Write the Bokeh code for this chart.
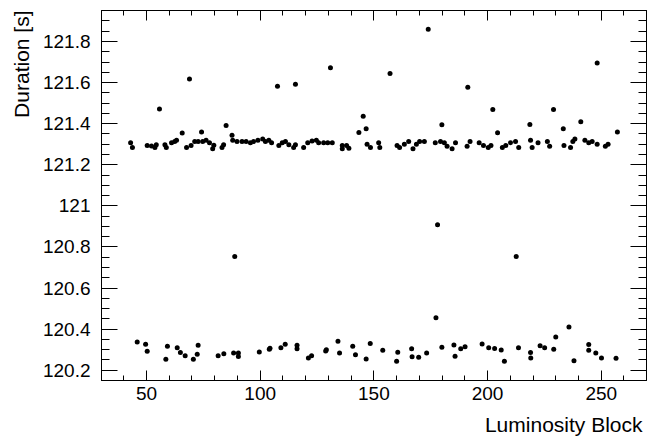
from bokeh.plotting import figure
from bokeh.models import (LinearAxis, SingleIntervalTicker, CustomJSTickFormatter,
                          Title, Range1d, ColumnDataSource)
from bokeh.embed import file_html
from bokeh.resources import INLINE

# ---- data: (luminosity block, duration [s]) ----
lumi_band_hi = [43.0, 43.8, 50.3, 52.2, 53.7, 54.3, 58.1, 58.7, 61.0, 62.4, 63.2, 65.7,
                67.6, 69.6, 71.2, 72.7, 74.2, 74.7, 76.2, 77.7, 79.1, 79.6, 83.2, 83.9,
                87.6, 87.9, 89.8, 92.0, 93.8, 95.7, 97.1, 99.0, 101.1, 102.3, 103.8, 105.0,
                108.2, 109.7, 111.1, 112.6, 114.7, 115.5, 119.1, 120.9, 122.8, 124.7, 125.7,
                127.9, 129.7, 131.7, 136.1, 136.1, 138.0, 139.0, 147.0, 148.5, 152.1, 152.6,
                160.2, 161.3, 163.4, 165.3, 167.2, 168.7, 170.1, 172.2, 177.0, 179.3, 181.0,
                182.2, 184.4, 185.9, 191.0, 192.3, 196.3, 198.2, 200.3, 201.5, 206.5, 208.0,
                210.1, 212.3, 213.7, 218.9, 219.6, 222.2, 226.3, 227.3, 233.6, 236.5, 237.5,
                238.4, 242.8, 244.5, 246.0, 248.2, 251.8, 253.0]
dur_band_hi = [121.307, 121.284, 121.294, 121.291, 121.284, 121.297, 121.297, 121.284,
               121.307, 121.313, 121.320, 121.355, 121.284, 121.294, 121.313, 121.313,
               121.360, 121.313, 121.320, 121.307, 121.278, 121.295, 121.284, 121.297,
               121.344, 121.320, 121.313, 121.313, 121.313, 121.307, 121.313, 121.320,
               121.326, 121.313, 121.320, 121.307, 121.294, 121.307, 121.313, 121.297,
               121.284, 121.297, 121.284, 121.307, 121.316, 121.320, 121.307, 121.307,
               121.307, 121.307, 121.294, 121.278, 121.294, 121.280, 121.300, 121.284,
               121.307, 121.284, 121.294, 121.284, 121.300, 121.313, 121.278, 121.300,
               121.313, 121.313, 121.307, 121.313, 121.307, 121.290, 121.278, 121.307,
               121.290, 121.313, 121.307, 121.294, 121.284, 121.294, 121.284, 121.294,
               121.307, 121.313, 121.284, 121.320, 121.284, 121.307, 121.313, 121.290,
               121.294, 121.284, 121.313, 121.326, 121.320, 121.307, 121.313, 121.300,
               121.290, 121.300]

lumi_out_hi = [55.7, 68.9, 85.0, 107.6, 115.5, 130.9, 143.4, 145.3, 146.6, 157.1, 173.9,
               179.9, 191.3, 202.3, 204.4, 218.6, 229.0, 233.3, 241.0, 248.2, 257.1]
dur_out_hi = [121.472, 121.618, 121.391, 121.582, 121.592, 121.672, 121.357, 121.436,
              121.375, 121.644, 121.860, 121.395, 121.578, 121.469, 121.356, 121.396,
              121.469, 121.376, 121.409, 121.696, 121.359]

lumi_band_lo = [45.9, 49.6, 50.3, 58.5, 59.2, 63.5, 64.9, 67.0, 70.6, 72.3, 72.7, 81.5,
                84.0, 88.3, 88.8, 90.4, 90.4, 99.6, 104.0, 104.3, 109.1, 111.0, 116.2,
                116.2, 121.2, 122.6, 128.8, 129.1, 134.2, 134.9, 140.7, 141.9, 146.6, 148.4,
                153.9, 160.0, 160.5, 166.6, 166.8, 169.7, 173.2, 177.3, 178.0, 179.9, 185.2,
                185.7, 188.2, 190.1, 197.6, 200.5, 203.1, 206.0, 207.4, 212.6, 213.6, 218.9,
                219.0, 223.1, 225.1, 229.1, 230.0, 235.8, 238.0, 244.5, 244.5, 247.6, 250.1,
                256.5]
dur_band_lo = [120.338, 120.327, 120.292, 120.253, 120.317, 120.310, 120.286, 120.270,
               120.253, 120.278, 120.322, 120.270, 120.280, 120.284, 120.753, 120.284,
               120.267, 120.289, 120.302, 120.307, 120.310, 120.327, 120.322, 120.304,
               120.260, 120.270, 120.294, 120.300, 120.341, 120.284, 120.317, 120.275,
               120.255, 120.330, 120.297, 120.244, 120.287, 120.304, 120.265, 120.263,
               120.284, 120.455, 120.908, 120.312, 120.323, 120.268, 120.304, 120.314,
               120.328, 120.309, 120.306, 120.299, 120.244, 120.753, 120.309, 120.286,
               120.260, 120.319, 120.310, 120.302, 120.362, 120.411, 120.246, 120.325,
               120.297, 120.284, 120.260, 120.258]

x_ticks_major = 50
y_ticks_major = 0.2

FONT = "Liberation Sans"

p = figure(width=647, height=444,
           x_range=Range1d(30.2, 269.9), y_range=Range1d(120.15, 121.951),
           output_backend="svg", toolbar_location=None,
           min_border_left=101, min_border_right=1, min_border_top=10, min_border_bottom=64,
           background_fill_color="white", border_fill_color="white")
p.xgrid.visible = False
p.ygrid.visible = False
p.outline_line_color = "black"
p.outline_line_width = 1

xt = SingleIntervalTicker(interval=x_ticks_major, num_minor_ticks=5)
yt = SingleIntervalTicker(interval=y_ticks_major, num_minor_ticks=4)
yfmt = CustomJSTickFormatter(code="return String(Number(tick.toFixed(1)));")
blank = CustomJSTickFormatter(code="return '';")


def style(ax, major, minor, labels=True):
    ax.axis_line_color = "black"
    ax.axis_line_width = 1
    ax.major_tick_line_color = "black"
    ax.minor_tick_line_color = "black"
    ax.major_tick_in = major
    ax.major_tick_out = 0
    ax.minor_tick_in = minor
    ax.minor_tick_out = 0
    ax.major_label_text_font = FONT
    ax.major_label_text_font_size = "19px"
    ax.major_label_text_color = "black"
    if not labels:
        ax.formatter = blank
        ax.major_label_text_font_size = "0px"
        ax.major_label_standoff = 0
        ax.axis_label_standoff = 0


xa = p.xaxis[0]
xa.ticker = xt
style(xa, 10, 5)
xa.major_label_standoff = 6

ya = p.yaxis[0]
ya.ticker = yt
ya.formatter = yfmt
style(ya, 16, 8)
ya.major_label_standoff = 11

top = LinearAxis(ticker=SingleIntervalTicker(interval=x_ticks_major, num_minor_ticks=5))
style(top, 10, 5, labels=False)
p.add_layout(top, "above")

right = LinearAxis(ticker=SingleIntervalTicker(interval=y_ticks_major, num_minor_ticks=4))
style(right, 16, 8, labels=False)
p.add_layout(right, "right")

src_hi = ColumnDataSource(dict(x=lumi_band_hi, y=dur_band_hi))
src_out = ColumnDataSource(dict(x=lumi_out_hi, y=dur_out_hi))
src_lo = ColumnDataSource(dict(x=lumi_band_lo, y=dur_band_lo))
for s in (src_hi, src_out, src_lo):
    p.scatter("x", "y", source=s, marker="circle", size=5,
              fill_color="black", line_color=None)

p.add_layout(Title(text="Luminosity Block", align="right", text_font=FONT,
                   text_font_size="21px", text_font_style="normal",
                   text_color="black", standoff=16, offset=4), "below")
p.add_layout(Title(text="Duration [s]", align="right", text_font=FONT,
                   text_font_size="21px", text_font_style="normal",
                   text_color="black", standoff=13), "left")

open("out.html", "w").write(file_html(p, INLINE))
